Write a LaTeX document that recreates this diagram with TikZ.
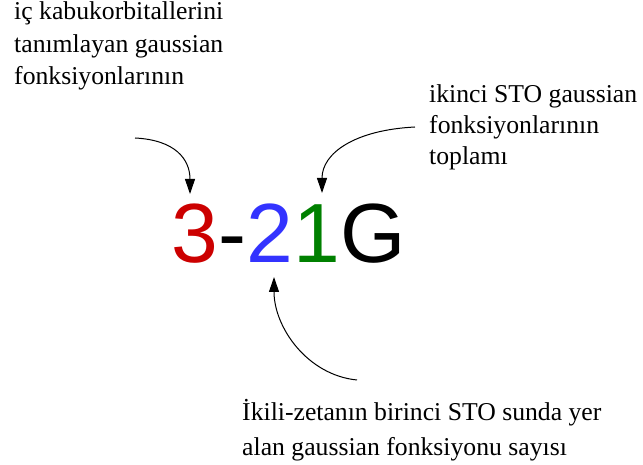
\documentclass[tikz,border=0pt]{standalone}
\usepackage{fontspec}
\setmainfont{Liberation Serif}
\newfontfamily\bigsans{Liberation Sans}
\usetikzlibrary{arrows.meta}
\definecolor{cred}{RGB}{204,0,0}
\definecolor{cblue}{RGB}{51,51,255}
\definecolor{cgreen}{RGB}{0,128,0}
\tikzset{
  lbl/.style={anchor=base west, inner sep=0pt, font=\fontsize{25.7}{32}\selectfont},
  big/.style={anchor=base west, inner sep=0pt, font=\bigsans\fontsize{84}{90}\selectfont},
  arr/.style={line width=1pt, -{Triangle[length=15pt,width=10pt]}}
}
\begin{document}
\begin{tikzpicture}[x=1pt,y=-1pt]
\useasboundingbox (0,0) rectangle (643,465);
% top-left label
\node[lbl] (tl1) at (14,20) {iç kabukorbitallerini};
\node[lbl] (tl2) at (14,53) {tanımlayan gaussian};
\node[lbl] (tl3) at (14,85) {fonksiyonlarının};
% right label
\node[lbl] (tr1) at (429,103) {ikinci STO gaussian};
\node[lbl] (tr2) at (429,134) {fonksiyonlarının};
\node[lbl] (tr3) at (429,165) {toplamı};
% bottom label
\node[lbl] (bl1) at (242,420) {İkili-zetanın birinci STO sunda yer};
\node[lbl] (bl2) at (242,455) {alan gaussian fonksiyonu sayısı};
% big text
\node[big, text=cred] (c3) at (171,263) {3};
\node[big, text=black] (cd) at (c3.base east) {-};
\node[big, text=cblue] (c2) at (cd.base east) {2};
\node[big, text=cgreen] (c1) at (c2.base east) {1};
\node[big, text=black] (cG) at (c1.base east) {G};
% arrow endpoints
\coordinate (s1) at (135,138);
\coordinate (s2) at (415,127);
\coordinate (s3) at (357,380);
\coordinate (t1) at (190,194);
\coordinate (t2) at (322,193);
\coordinate (t3) at (274,277);
\draw[arr] (s1) .. controls +(40,2) and +(0,-35) .. (t1);
\draw[arr] (s2) .. controls +(-60,3) and +(0,-40) .. (t2);
\draw[arr] (s3) .. controls +(-50,-5) and +(0,50) .. (t3);
\end{tikzpicture}
\end{document}
